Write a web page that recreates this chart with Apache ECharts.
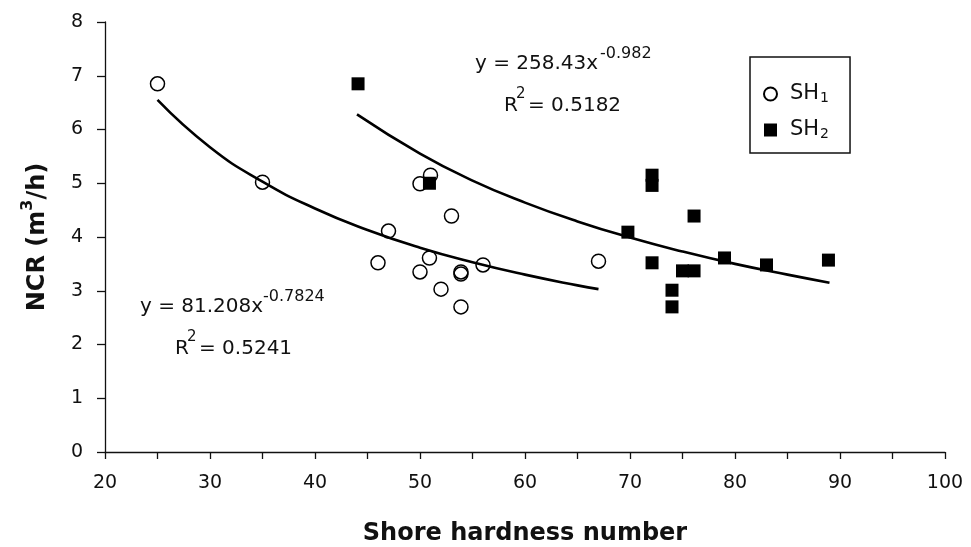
<!DOCTYPE html>
<html>
<head>
<meta charset="utf-8">
<script src="https://cdn.jsdelivr.net/npm/echarts@6/dist/echarts.min.js"></script>
<style>html,body{margin:0;padding:0;background:#fff}#c{width:971px;height:547px}</style>
</head>
<body>
<div id="c"></div>
<script>
// SH1 (open circles)
var sh1X = [25, 35, 46, 47, 50, 50, 51, 50.9, 52, 53, 53.9, 53.9, 53.9, 56, 67];
var sh1Y = [6.85, 5.02, 3.52, 4.11, 4.99, 3.35, 5.15, 3.61, 3.03, 4.39, 3.35, 3.31, 2.70, 3.48, 3.55];
// SH2 (filled squares)
var sh2X = [44.1, 50.9, 69.8, 72.1, 72.1, 72.1, 74.0, 74.0, 75.0, 76.1, 76.1, 79.0, 83.0, 88.9];
var sh2Y = [6.85, 5.00, 4.09, 5.15, 4.96, 3.52, 3.01, 2.70, 3.37, 3.37, 4.39, 3.61, 3.48, 3.57];
// fitted power curves
var fit1X = [25, 30, 35, 40, 45, 50, 55, 60, 65, 67];
var fit1Y = [6.55, 5.67, 5.03, 4.53, 4.13, 3.80, 3.53, 3.30, 3.10, 3.03];
var fit2X = [44, 50, 55, 60, 65, 70, 75, 80, 85, 89];
var fit2Y = [6.28, 5.55, 5.05, 4.64, 4.29, 3.99, 3.73, 3.50, 3.30, 3.15];
// axes
var xMin = 20, xMax = 100, xStep = 10;
var yMin = 0, yMax = 8, yStep = 1;
var xTitle = 'Shore hardness number';
var yTitle = ['NCR (m', '3', '/h)'];
var seriesNames = ['SH1', 'SH2'];
var eq1 = ['y = 81.208x', '-0.7824', 'R', '2', '= 0.5241'];
var eq2 = ['y = 258.43x', '-0.982', 'R', '2', '= 0.5182'];

function zip(a, b) { return a.map(function (v, i) { return [v, b[i]]; }); }

var FONT = '"DejaVu Sans", sans-serif';
var chart = echarts.init(document.getElementById('c'), null, {renderer: 'canvas'});

function txt(left, top, text, size) {
  return {type: 'text', left: left, top: top, z: 100,
    style: {text: text, fontFamily: FONT, fontSize: size, fill: '#111'}};
}

chart.setOption({
  animation: false,
  backgroundColor: '#fff',
  grid: {left: 105, right: 26, top: 22, bottom: 95, containLabel: false, outerBoundsMode: 'none'},
  xAxis: {
    type: 'value', min: xMin, max: xMax, interval: xStep,
    splitLine: {show: false},
    axisLine: {onZero: false, lineStyle: {color: '#111', width: 1.3}},
    axisTick: {show: true, inside: false, length: 7, lineStyle: {color: '#111', width: 1.3}},
    minorTick: {show: true, splitNumber: 2, length: 7, lineStyle: {color: '#111', width: 1.3}},
    axisLabel: {color: '#111', fontFamily: FONT, fontSize: 19, margin: 22},
    name: xTitle, nameLocation: 'middle', nameGap: 70,
    nameTextStyle: {color: '#111', fontFamily: FONT, fontSize: 24, fontWeight: 'bold'}
  },
  yAxis: {
    type: 'value', min: yMin, max: yMax, interval: yStep,
    splitLine: {show: false},
    axisLine: {onZero: false, lineStyle: {color: '#111', width: 1.3}},
    axisTick: {show: true, inside: false, length: 8, lineStyle: {color: '#111', width: 1.3}},
    axisLabel: {color: '#111', fontFamily: FONT, fontSize: 19, margin: 22},
    name: '{a|' + yTitle[0] + '}{s|' + yTitle[1] + '}{a|' + yTitle[2] + '}',
    nameLocation: 'middle', nameGap: 55, nameRotate: 90,
    nameTextStyle: {
      color: '#111', fontFamily: FONT, fontSize: 24, fontWeight: 'bold',
      rich: {
        a: {fontFamily: FONT, fontSize: 24, fontWeight: 'bold', color: '#111', lineHeight: 30, verticalAlign: 'bottom'},
        s: {fontFamily: FONT, fontSize: 16, fontWeight: 'bold', color: '#111', lineHeight: 30, verticalAlign: 'top'}
      }
    }
  },
  legend: {
    orient: 'vertical', left: 750, top: 57,
    padding: [26, 21, 12, 13],
    itemWidth: 13, itemHeight: 13, itemGap: 14,
    borderColor: '#111', borderWidth: 1.5, borderRadius: 0,
    data: [{name: seriesNames[0], icon: 'circle'}, {name: seriesNames[1], icon: 'rect'}],
    formatter: function (n) { return '{a|' + n.slice(0, 2) + '}{b|' + n.slice(2) + '}'; },
    textStyle: {
      color: '#111', fontFamily: FONT, fontSize: 21,
      rich: {
        a: {fontFamily: FONT, fontSize: 21, color: '#111', lineHeight: 22, verticalAlign: 'top', padding: [0, 0, 0, 8]},
        b: {fontFamily: FONT, fontSize: 14, color: '#111', lineHeight: 22, verticalAlign: 'bottom', padding: [8, 0, 0, 1]}
      }
    }
  },
  graphic: [
    txt(140, 297, eq1[0], 20),
    txt(263, 289, eq1[1], 16),
    txt(175, 339, eq1[2], 20),
    txt(187, 330, eq1[3], 15),
    txt(199, 339, eq1[4], 20),
    txt(475, 54, eq2[0], 20),
    txt(600, 46, eq2[1], 16),
    txt(504, 96, eq2[2], 20),
    txt(516, 87, eq2[3], 15),
    txt(528, 96, eq2[4], 20)
  ],
  series: [
    {type: 'line', name: 'fit1', data: zip(fit1X, fit1Y), smooth: true, showSymbol: false,
      symbol: 'none', lineStyle: {color: '#000', width: 2.6}, z: 2, silent: true},
    {type: 'line', name: 'fit2', data: zip(fit2X, fit2Y), smooth: true, showSymbol: false,
      symbol: 'none', lineStyle: {color: '#000', width: 2.6}, z: 2, silent: true},
    {type: 'scatter', name: seriesNames[0], data: zip(sh1X, sh1Y), symbol: 'circle', symbolSize: 14,
      itemStyle: {color: 'rgba(255,255,255,0)', borderColor: '#000', borderWidth: 1.5, opacity: 1}, z: 3},
    {type: 'scatter', name: seriesNames[1], data: zip(sh2X, sh2Y), symbol: 'rect', symbolSize: 13,
      itemStyle: {color: '#000', opacity: 1}, z: 4}
  ]
});
</script>
</body>
</html>
